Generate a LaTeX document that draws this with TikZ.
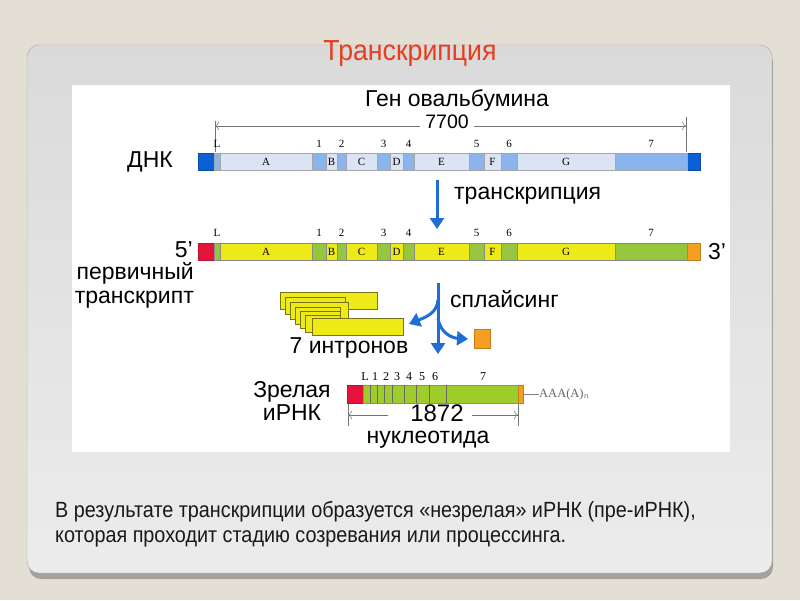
\documentclass[tikz,border=0pt]{standalone}
\usepackage{fontspec}
\setmainfont{Liberation Sans}
\newfontfamily\segfont{Liberation Serif}
\newfontfamily\narrowfont[FakeStretch=0.9]{Liberation Sans}
\newfontfamily\titlefont[FakeStretch=0.92]{Liberation Sans}
\usetikzlibrary{arrows.meta}

\definecolor{pagebg}{RGB}{228,223,213}
\definecolor{panelshadow}{RGB}{165,162,155}
\definecolor{titlered}{RGB}{232,62,28}
\definecolor{arrowblue}{RGB}{30,110,214}
\definecolor{dnadark}{RGB}{10,96,212}
\definecolor{dnaexon}{RGB}{140,180,236}
\definecolor{dnaintron}{RGB}{218,228,244}
\definecolor{capred}{RGB}{230,20,60}
\definecolor{tailorange}{RGB}{244,158,34}
\definecolor{exongreen}{RGB}{150,198,60}
\definecolor{intronyellow}{RGB}{238,234,24}
\definecolor{maturegreen}{RGB}{158,204,42}

\tikzset{
  bigtext/.style={font=\fontsize{23}{26}\selectfont, inner sep=0pt},
  seglabel/.style={font=\segfont\fontsize{11}{13}\selectfont, inner sep=0pt},
  dimline/.style={draw=black!55, line width=0.5pt},
  bluearrow/.style={draw=arrowblue, line width=3pt, -{Triangle[length=11pt,width=14pt]}},
  dnaend/.style={fill=dnadark, draw=dnadark!80!black, line width=0.3pt},
  dnae/.style={fill=dnaexon, draw=black!35, line width=0.3pt},
  dnai/.style={fill=dnaintron, draw=black!35, line width=0.3pt},
  ptcap/.style={fill=capred, draw=capred!80!black, line width=0.3pt},
  ptail/.style={fill=tailorange, draw=tailorange!80!black, line width=0.3pt},
  pte/.style={fill=exongreen, draw=black!45, line width=0.3pt},
  pti/.style={fill=intronyellow, draw=black!45, line width=0.3pt},
  intronbox/.style={fill=intronyellow, draw=olive!80!black, line width=0.4pt},
}

\begin{document}
\begin{tikzpicture}[x=1pt,y=-1pt]
	\useasboundingbox (0,0) rectangle (800,600);
	\fill[pagebg] (0,0) rectangle (800,600);

	% slide panel
	\fill[panelshadow, rounded corners=12] (29,50) rectangle (773,579);
	\shade[top color={rgb,255:red,218;green,218;blue,218}, bottom color={rgb,255:red,236;green,236;blue,236}, rounded corners=12, draw=black!35, line width=0.4pt] (27,45) rectangle (772,573);
	\node[text=titlered, font=\titlefont\fontsize{29}{32}\selectfont, inner sep=0pt] (title) at (410,54) {Транскрипция};
	\fill[white] (72,85) rectangle (730,452);

	% gene header
	\node[bigtext] (gene) at (457,100) {Ген овальбумина};
	\node[bigtext, font=\fontsize{19.5}{22}\selectfont, anchor=base] (len7700) at (447,128) {7700};
	\coordinate (dimL) at (215,126);
	\coordinate (dimR) at (686,126);
	\draw[dimline] (215,121) -- (215,152);
	\draw[dimline] (686,117) -- (686,152);
	\draw[dimline, -{To[length=4pt]}] (len7700.west |- dimL) ++(-5,0) -- (dimL);
	\draw[dimline, -{To[length=4pt]}] (len7700.east |- dimR) ++(5,0) -- (dimR);

	% DNA
	\node[bigtext, anchor=east] (dnk) at (173,162) {ДНК};
	\draw[dnaend] (198,153) rectangle (214,170);
	\draw[dnaend] (687,153) rectangle (700,170);
	\foreach \a/\b/\t in {220/312/A,326/337/B,346/377/C,390/403/D,414/469/E,484/501/F,517/615/G}{
		\draw[dnai] (\a,153) rectangle (\b,170);
		\node[seglabel] (dna-\t) at ({(\a+\b)/2},162) {\t};
	}
	\foreach \a/\b/\t in {214/220/L,312/326/1,337/346/2,377/390/3,403/414/4,469/484/5,501/517/6,615/687/7}{
		\draw[dnae] (\a,153) rectangle (\b,170);
		\node[seglabel] (dnax-\t) at ({(\a+\b)/2},144) {\t};
	}

	% transcription arrow
	\coordinate (trTop) at (437,180);
	\coordinate (trBot) at (437,229);
	\draw[bluearrow] (trTop) -- (trBot);
	\node[bigtext, anchor=west] (trlabel) at (454,196) {транскрипция};

	% primary transcript
	\node[bigtext, anchor=east] (five) at (193,250) {5’};
	\node[bigtext, anchor=west] (three) at (708,252) {3’};
	\node[bigtext, anchor=north east, align=right, font=\fontsize{23}{24}\selectfont] (primary) at (194,262) {первичный\\транскрипт};
	\draw[ptcap] (198,243) rectangle (214,260);
	\draw[ptail] (687,243) rectangle (700,260);
	\foreach \a/\b/\t in {220/312/A,326/337/B,346/377/C,390/403/D,414/469/E,484/501/F,517/615/G}{
		\draw[pti] (\a,243) rectangle (\b,260);
		\node[seglabel] (pt-\t) at ({(\a+\b)/2},252) {\t};
	}
	\foreach \a/\b/\t in {214/220/L,312/326/1,337/346/2,377/390/3,403/414/4,469/484/5,501/517/6,615/687/7}{
		\draw[pte] (\a,243) rectangle (\b,260);
		\node[seglabel] (ptx-\t) at ({(\a+\b)/2},233) {\t};
	}

	% splicing
	\foreach \x/\y/\w [count=\i] in {280/292/97,285/297/60,290/302/58,295/307/45,300/311/40,305/315/35,312/318/91}{
		\draw[intronbox] (\x,\y) rectangle ++(\w,17);
	}
	\node[bigtext] (introns) at (349,348) {7 интронов};
	\coordinate (spTop) at (438,283);
	\coordinate (spBot) at (438,354);
	\coordinate (spLeft) at (409,324);
	\coordinate (spRight) at (468,339);
	\draw[bluearrow] (spTop) -- (spBot);
	\draw[bluearrow] (438,300) .. controls (437,313) and (426,317) .. (spLeft);
	\draw[bluearrow] (438,318) .. controls (440,333) and (452,338) .. (spRight);
	\node[bigtext, anchor=west] (splabel) at (450,299) {сплайсинг};
	\draw[ptail] (474,329) rectangle (490,348);

	% mature mRNA
	\node[bigtext, align=center, font=\fontsize{23}{23}\selectfont] (mature) at (292,401) {Зрелая\\иРНК};
	\draw[ptcap] (347,385) rectangle (363,403);
	\draw[fill=maturegreen, draw=black!45, line width=0.3pt] (363,385) rectangle (518,403);
	\draw[ptail] (518,385) rectangle (523,403);
	\foreach \x in {370,377,384,392,404,416,429,446}{
		\draw[black!60, line width=0.5pt] (\x,385) -- (\x,403);
	}
	\foreach \x/\t in {365/L,375/1,386/2,397/3,409/4,422/5,435/6,483/7}{
		\node[seglabel, font=\segfont\fontsize{12}{14}\selectfont] (mx-\t) at (\x,377) {\t};
	}
	\node[seglabel, anchor=west, text=black!60, font=\segfont\fontsize{12.5}{14}\selectfont] (polyA) at (539,394) {AAA(A)$_n$};
	\draw[black!50, line width=0.5pt] (524,394) -- (polyA.west);

	% 1872 dimension
	\node[bigtext, font=\fontsize{24}{26}\selectfont] (len1872) at (437,413) {1872};
	\coordinate (mdimL) at (348,415);
	\coordinate (mdimR) at (518,415);
	\draw[dimline] (348,404) -- (348,426);
	\draw[dimline] (518,404) -- (518,426);
	\draw[dimline, -{To[length=4pt]}] (388,415) -- (mdimL);
	\draw[dimline, -{To[length=4pt]}] (472,415) -- (mdimR);
	\node[bigtext] (nucl) at (428,440) {нуклеотида};

	% caption
	\node[anchor=west, align=left, inner sep=0pt, text=black!90, font=\narrowfont\fontsize{22}{25}\selectfont] (caption) at (55,524) {В результате транскрипции образуется «незрелая» иРНК (пре-иРНК),\\которая проходит стадию созревания или процессинга.};
\end{tikzpicture}
\end{document}
